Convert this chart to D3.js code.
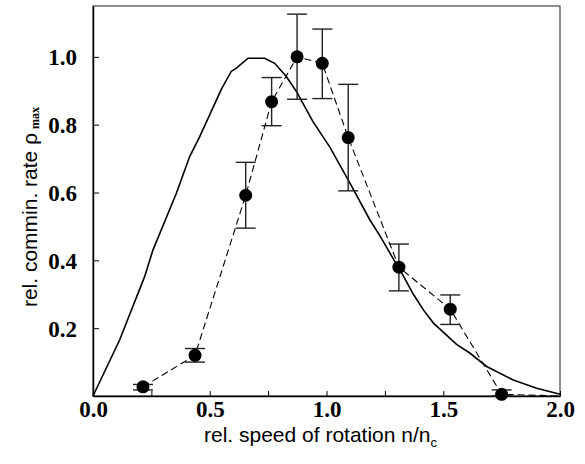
<!DOCTYPE html>
<html>
<head>
<meta charset="utf-8">
<script src="https://cdn.jsdelivr.net/npm/d3@7"></script>
<style>
  body { margin: 0; background: #fff; }
  svg { display: block; }
</style>
</head>
<body>
<div id="chart"></div>
<script>
// measured points (relative speed vs relative comminution rate)
const speed = [0.214, 0.437, 0.654, 0.765, 0.874, 0.982, 1.093, 1.31, 1.53, 1.75];
const rate = [0.027, 0.12, 0.592, 0.868, 1.0, 0.981, 0.762, 0.38, 0.256, 0.005];
const errLow = [0.018, 0.10, 0.495, 0.797, 0.875, 0.877, 0.605, 0.31, 0.211, 0.0];
const errHigh = [0.034, 0.14, 0.689, 0.939, 1.126, 1.082, 0.919, 0.448, 0.298, 0.018];

// dashed line runs on to the end of the axis
const dashEndSpeed = 2.0;
const dashEndRate = 0.0;

// model curve
const modelSpeed = [0, 0.114, 0.221, 0.257, 0.357, 0.414, 0.457, 0.55, 0.592, 0.614, 0.664, 0.735,
  0.778, 0.828, 0.871, 0.942, 1.015, 1.101, 1.186, 1.229, 1.293, 1.315, 1.372, 1.415, 1.458,
  1.557, 1.615, 1.686, 1.8, 1.9, 2.0];
const modelRate = [0, 0.165, 0.352, 0.431, 0.598, 0.706, 0.765, 0.905, 0.957, 0.967, 0.996, 0.996,
  0.981, 0.942, 0.898, 0.809, 0.733, 0.627, 0.519, 0.472, 0.396, 0.372, 0.30, 0.254, 0.215,
  0.152, 0.126, 0.087, 0.047, 0.023, 0.005];

const xTicks = [0, 0.5, 1.0, 1.5, 2.0];
const xMinorTicks = [0.25, 0.75, 1.25, 1.75];
const yTicks = [0.2, 0.4, 0.6, 0.8, 1.0];

const W = 585, H = 464;
const margin = {top: 6, right: 25, bottom: 68, left: 93};
const width = W - margin.left - margin.right,
      height = H - margin.top - margin.bottom;

const svg = d3.select("#chart").append("svg")
  .attr("width", W)
  .attr("height", H);

const g = svg.append("g")
  .attr("transform", `translate(${margin.left},${margin.top})`);

const x = d3.scaleLinear().domain([0, 2.0]).range([0, width]);
const y = d3.scaleLinear().domain([0, 1.15]).range([height, 0]);

// frame
g.append("rect")
  .attr("x", 0).attr("y", 0)
  .attr("width", width).attr("height", height)
  .attr("fill", "none")
  .attr("stroke", "#444")
  .attr("stroke-width", 1.2);

// x axis
const xAxis = g.append("g")
  .attr("transform", `translate(0,${height})`)
  .call(d3.axisBottom(x).tickValues(xTicks.concat(xMinorTicks))
    .tickSize(-5).tickSizeOuter(0)
    .tickFormat(d => xTicks.includes(d) ? d3.format(".1f")(d) : ""));
xAxis.select(".domain").attr("stroke", "#000").attr("stroke-width", 1.5);
xAxis.selectAll(".tick line").attr("stroke", "#000");
xAxis.selectAll("text")
  .attr("y", 21)
  .attr("dy", 0)
  .attr("font-family", "'Liberation Serif', 'Times New Roman', serif")
  .attr("font-weight", "bold")
  .attr("font-size", "23px")
  .attr("fill", "#000");

// y axis
const yAxis = g.append("g")
  .call(d3.axisLeft(y).tickValues(yTicks)
    .tickSize(-6).tickSizeOuter(0)
    .tickFormat(d3.format(".1f")));
yAxis.select(".domain").attr("stroke", "#000").attr("stroke-width", 1.5);
yAxis.selectAll(".tick line").attr("stroke", "#000");
yAxis.selectAll("text")
  .attr("x", -16)
  .attr("dy", "0.35em")
  .attr("font-family", "'Liberation Serif', 'Times New Roman', serif")
  .attr("font-weight", "bold")
  .attr("font-size", "23px")
  .attr("fill", "#000");

// model curve
const line = d3.line().x(d => x(d[0])).y(d => y(d[1]));
g.append("path")
  .datum(d3.zip(modelSpeed, modelRate))
  .attr("d", line)
  .attr("fill", "none")
  .attr("stroke", "#000")
  .attr("stroke-width", 1.6);

// dashed connection of measurements
const dashData = d3.zip(speed, rate).concat([[dashEndSpeed, dashEndRate]]);
g.append("path")
  .datum(dashData)
  .attr("d", line)
  .attr("fill", "none")
  .attr("stroke", "#000")
  .attr("stroke-width", 1.1)
  .attr("stroke-dasharray", "7,4");

// error bars
const points = speed.map((s, i) => ({s: s, r: rate[i], lo: errLow[i], hi: errHigh[i]}));
const cap = 10;
const eb = g.append("g").attr("stroke", "#222").attr("stroke-width", 1.4);
points.forEach(d => {
  eb.append("line")
    .attr("x1", x(d.s)).attr("x2", x(d.s))
    .attr("y1", y(d.lo)).attr("y2", y(d.hi));
  eb.append("line")
    .attr("x1", x(d.s) - cap).attr("x2", x(d.s) + cap)
    .attr("y1", y(d.hi)).attr("y2", y(d.hi));
  eb.append("line")
    .attr("x1", x(d.s) - cap).attr("x2", x(d.s) + cap)
    .attr("y1", y(d.lo)).attr("y2", y(d.lo));
});

// markers
g.selectAll("circle.pt")
  .data(points)
  .join("circle")
  .attr("class", "pt")
  .attr("cx", d => x(d.s))
  .attr("cy", d => y(d.r))
  .attr("r", 6.5)
  .attr("fill", "#000");

// x axis title
const xt = svg.append("text")
  .attr("x", margin.left + width / 2 - 6)
  .attr("y", 442)
  .attr("text-anchor", "middle")
  .attr("font-family", "'Liberation Sans', Arial, sans-serif")
  .attr("font-size", "21px")
  .attr("fill", "#000");
xt.append("tspan").text("rel. speed of rotation n/n");
xt.append("tspan").attr("dy", 5).attr("font-size", "13px").text("c");

// y axis title
const yt = svg.append("text")
  .attr("transform", `translate(37,${margin.top + height / 2 + 6}) rotate(-90)`)
  .attr("text-anchor", "middle")
  .attr("font-family", "'Liberation Sans', Arial, sans-serif")
  .attr("font-size", "21px")
  .attr("fill", "#000");
yt.append("tspan").text("rel. commin. rate \u03C1");
yt.append("tspan")
  .attr("dx", 4)
  .attr("dy", 2)
  .attr("font-family", "'Liberation Serif', 'Times New Roman', serif")
  .attr("font-weight", "bold")
  .attr("font-size", "12px")
  .text("max");
</script>
</body>
</html>
